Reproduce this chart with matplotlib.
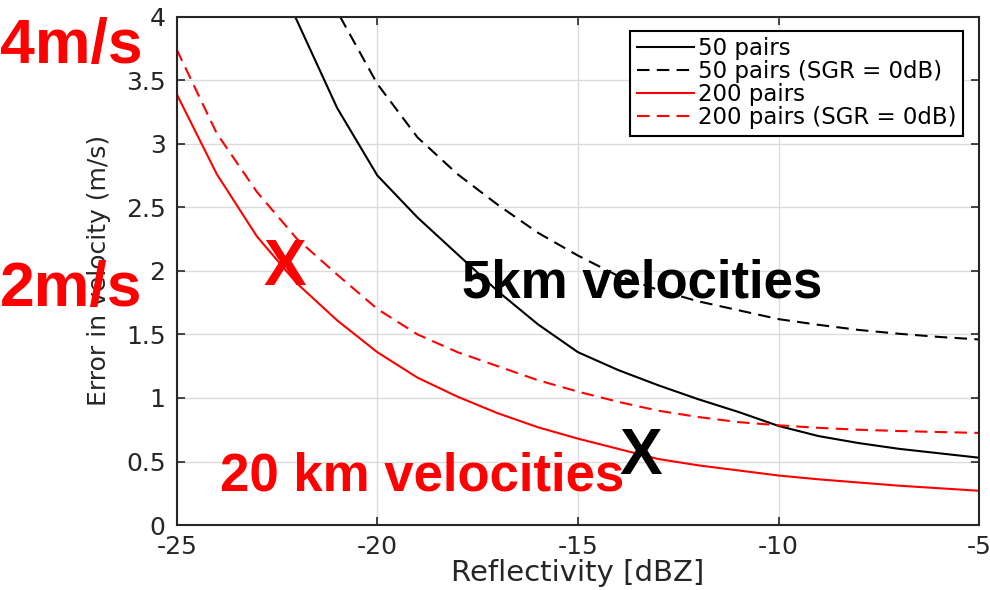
import numpy as np
import matplotlib
matplotlib.use("Agg")
from matplotlib import pyplot as plt

plt.rcParams['font.family'] = ['DejaVu Sans']
plt.rcParams['axes.unicode_minus'] = False

# velocity error vs reflectivity, read per curve
x_50 = [-22.05, -21, -20, -19, -18, -17, -16, -15, -14, -13, -12, -11, -10, -9, -8, -7, -6, -5]
y_50 = [4.0, 3.28, 2.75, 2.42, 2.13, 1.84, 1.58, 1.36, 1.22, 1.10, 0.99, 0.89, 0.78, 0.70, 0.645, 0.60, 0.565, 0.53]

x_50_sgr = [-20.93, -20, -19, -18, -17, -16, -15, -14, -13, -12, -11, -10, -9, -8, -7, -6, -5]
y_50_sgr = [4.0, 3.47, 3.05, 2.76, 2.52, 2.30, 2.12, 1.96, 1.85, 1.76, 1.69, 1.62, 1.575, 1.535, 1.505, 1.48, 1.46]

x_200 = [-25, -24, -23, -22, -21, -20, -19, -18, -17, -16, -15, -14, -13, -12, -11, -10, -9, -8, -7, -6, -5]
y_200 = [3.39, 2.76, 2.27, 1.90, 1.61, 1.36, 1.16, 1.01, 0.88, 0.77, 0.68, 0.60, 0.52, 0.47, 0.43, 0.39, 0.36, 0.335, 0.31, 0.29, 0.27]

x_200_sgr = [-25, -24, -23, -22, -21, -20, -19, -18, -17, -16, -15, -14, -13, -12, -11, -10, -9, -8, -7, -6, -5]
y_200_sgr = [3.74, 3.08, 2.62, 2.25, 1.97, 1.70, 1.50, 1.36, 1.25, 1.14, 1.05, 0.97, 0.90, 0.85, 0.81, 0.785, 0.765, 0.75, 0.74, 0.732, 0.725]

labels = ['50 pairs', '50 pairs (SGR = 0dB)', '200 pairs', '200 pairs (SGR = 0dB)']

fig = plt.figure(figsize=(9.9, 5.9), dpi=100)
ax = fig.add_axes([0.1785, 0.11, 0.8105, 0.862])

dash = (0, (6, 3.5))
ax.plot(x_50, y_50, color='black', lw=1.5, label=labels[0])
ax.plot(x_50_sgr, y_50_sgr, color='black', lw=1.5, ls=dash, label=labels[1])
ax.plot(x_200, y_200, color='#ff0000', lw=1.5, label=labels[2])
ax.plot(x_200_sgr, y_200_sgr, color='#ff0000', lw=1.5, ls=dash, label=labels[3])

ax.set_xlim(-25, -5)
ax.set_ylim(0, 4)
ax.set_xticks([-25, -20, -15, -10, -5])
ax.set_yticks(np.arange(0, 4.01, 0.5))
ax.set_yticklabels(['0', '0.5', '1', '1.5', '2', '2.5', '3', '3.5', '4'])
ax.grid(True, color='#dcdcdc', lw=1)
ax.set_axisbelow(True)
ax.tick_params(direction='in', length=6, width=1.2, top=True, right=True,
               labelsize=18, colors='#262626', labelcolor='#262626')
ax.tick_params(axis='y', pad=8)
ax.tick_params(axis='x', pad=7)
for sp in ax.spines.values():
    sp.set_linewidth(1.5)
    sp.set_color('#262626')

ax.set_xlabel('Reflectivity [dBZ]', fontsize=21, color='#262626', labelpad=0)
ax.set_ylabel('Error in velocity (m/s)', fontsize=18, color='#262626', labelpad=11)

leg = ax.legend(loc='upper right', bbox_to_anchor=(0.98, 0.9724), fontsize=16.5,
                frameon=True, fancybox=False, edgecolor='black', framealpha=1,
                handlelength=2.5, handletextpad=0.16, labelspacing=0.0,
                borderpad=0.3, borderaxespad=0)
leg.get_frame().set_linewidth(1.5)

# overlaid annotations
ann = dict(family=['Liberation Sans', 'DejaVu Sans'], fontweight='bold')
fig.text(0.0, 0.893, '4m/s', color='#ff0000', ha='left', va='baseline', fontsize=45, **ann)
fig.text(0.0, 0.482, '2m/s', color='#ff0000', ha='left', va='baseline', fontsize=45, **ann)
fig.text(0.4667, 0.495, '5km velocities', color='black', ha='left', va='baseline',
         fontsize=38, **ann)
fig.text(0.222, 0.168, '20 km velocities', color='#ff0000', ha='left', va='baseline',
         fontsize=38, **ann)
fig.text(0.288, 0.546, 'X', color='#ff0000', ha='center', va='center', fontsize=46, **ann)
fig.text(0.647, 0.225, 'X', color='black', ha='center', va='center', fontsize=46, **ann)

fig.savefig('out.png', dpi=100)
